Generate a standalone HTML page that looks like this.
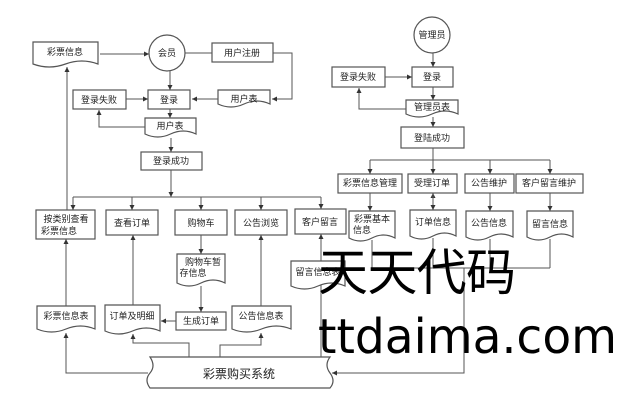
<!DOCTYPE html>
<html><head><meta charset="utf-8"><style>
html,body{margin:0;padding:0;background:#fff;}
svg{display:block;}
text{font-family:"Liberation Sans","Noto Sans CJK SC",sans-serif;font-size:9px;fill:#222;}
</style></head><body>
<svg width="633" height="414" viewBox="0 0 633 414" xmlns="http://www.w3.org/2000/svg">
<defs><marker id="a" markerWidth="6" markerHeight="6" refX="5" refY="3" orient="auto" markerUnits="userSpaceOnUse"><path d="M0,0.5 L5,3 L0,5.5z" fill="#333"/></marker></defs>
<g fill="#fff" stroke="#555" stroke-width="1.2">
<!-- boxes -->
<rect x="212" y="43" width="61" height="19"/>
<rect x="148" y="90" width="42" height="19"/>
<rect x="73" y="90" width="53" height="19"/>
<rect x="141" y="152" width="61" height="18"/>
<rect x="36" y="210" width="59" height="29"/>
<rect x="106" y="210" width="52" height="25"/>
<rect x="175" y="210" width="52" height="25"/>
<rect x="235" y="210" width="52" height="25"/>
<rect x="295" y="209" width="51" height="25"/>
<rect x="176" y="312" width="50" height="18"/>
<rect x="412" y="67" width="41" height="20"/>
<rect x="332" y="67" width="53" height="20"/>
<rect x="401" y="127" width="63" height="21"/>
<rect x="338" y="174" width="64" height="19"/>
<rect x="408" y="174" width="49" height="19"/>
<rect x="465" y="174" width="49" height="19"/>
<rect x="516" y="174" width="67" height="19"/>
<circle cx="167" cy="53" r="18"/>
<circle cx="432" cy="35" r="18"/>
<!-- docs -->
<path d="M33 42 h65 v22 q-16.25 -6 -32.5 0 t-32.5 0 z"/>
<path d="M218 90 h52 v14 q-13 -6 -26 0 t-26 0 z"/>
<path d="M145 118 h51 v16 q-12.75 -6 -25.5 0 t-25.5 0 z"/>
<path d="M406 100 h52 v14 q-13 -6 -26 0 t-26 0 z"/>
<path d="M349 211 h46 v27 q-11.5 -6 -23 0 t-23 0 z"/>
<path d="M410 210 h46 v26 q-11.5 -6 -23 0 t-23 0 z"/>
<path d="M466 211 h47 v26 q-11.75 -6 -23.5 0 t-23.5 0 z"/>
<path d="M527 211 h46 v26 q-11.5 -6 -23 0 t-23 0 z"/>
<path d="M177 254 h48 v29 q-12 -6 -24 0 t-24 0 z"/>
<path d="M37 306 h58 v23 q-14.5 -6 -29 0 t-29 0 z"/>
<path d="M105 305 h55 v26 q-13.75 -6 -27.5 0 t-27.5 0 z"/>
<path d="M232 306 h59 v23 q-14.75 -6 -29.5 0 t-29.5 0 z"/>
<path d="M150 357 H330 q-6 8 0 16 t0 15 H150 q-6 -8 0 -15 t0 -16 z"/>
</g>
<g fill="none" stroke="#555" stroke-width="1">
<line x1="100" y1="54" x2="149" y2="54" marker-end="url(#a)"/>
<line x1="185" y1="53" x2="212" y2="53"/>
<polyline points="273,53 292,53 292,99 272,99" marker-end="url(#a)"/>
<line x1="218" y1="99" x2="192" y2="99" marker-end="url(#a)"/>
<line x1="126" y1="99" x2="148" y2="99" marker-end="url(#a)"/>
<line x1="170" y1="71" x2="170" y2="90" marker-end="url(#a)"/>
<line x1="170" y1="109" x2="170" y2="118" marker-end="url(#a)"/>
<polyline points="145,127 99,127 99,110" marker-end="url(#a)"/>
<line x1="171" y1="138" x2="171" y2="152" marker-end="url(#a)"/>
<line x1="171" y1="170" x2="171" y2="197" marker-end="url(#a)"/>
<line x1="73" y1="197" x2="321" y2="197"/>
<line x1="73" y1="197" x2="73" y2="210" marker-end="url(#a)"/>
<line x1="132" y1="197" x2="132" y2="210" marker-end="url(#a)"/>
<line x1="201" y1="197" x2="201" y2="210" marker-end="url(#a)"/>
<line x1="261" y1="197" x2="261" y2="210" marker-end="url(#a)"/>
<line x1="321" y1="197" x2="321" y2="209" marker-end="url(#a)"/>
<line x1="67" y1="210" x2="67" y2="67" marker-end="url(#a)"/>
<line x1="66" y1="306" x2="66" y2="239" marker-end="url(#a)"/>
<polyline points="148,373 66,373 66,333" marker-end="url(#a)"/>
<line x1="133" y1="305" x2="133" y2="235" marker-end="url(#a)"/>
<polyline points="189,357 189,343 133,343 133,334" marker-end="url(#a)"/>
<line x1="176" y1="321" x2="161" y2="321" marker-end="url(#a)"/>
<line x1="201" y1="235" x2="201" y2="254" marker-end="url(#a)"/>
<line x1="201" y1="286" x2="201" y2="312" marker-end="url(#a)"/>
<line x1="261" y1="306" x2="261" y2="235" marker-end="url(#a)"/>
<polyline points="220,357 220,345 261,345 261,333" marker-end="url(#a)"/>
<line x1="321" y1="357" x2="321" y2="234" marker-end="url(#a)"/>
<line x1="433" y1="53" x2="433" y2="67" marker-end="url(#a)"/>
<line x1="385" y1="77" x2="412" y2="77" marker-end="url(#a)"/>
<line x1="433" y1="87" x2="433" y2="100" marker-end="url(#a)"/>
<polyline points="406,109 359,109 359,88" marker-end="url(#a)"/>
<line x1="433" y1="117" x2="433" y2="127" marker-end="url(#a)"/>
<line x1="433" y1="148" x2="433" y2="160"/>
<line x1="370" y1="160" x2="550" y2="160"/>
<line x1="370" y1="160" x2="370" y2="174" marker-end="url(#a)"/>
<line x1="433" y1="160" x2="433" y2="174" marker-end="url(#a)"/>
<line x1="490" y1="160" x2="490" y2="174" marker-end="url(#a)"/>
<line x1="550" y1="160" x2="550" y2="174" marker-end="url(#a)"/>
<line x1="370" y1="193" x2="370" y2="211" marker-end="url(#a)"/>
<line x1="433" y1="198" x2="433" y2="193" marker-end="url(#a)"/>
<line x1="433" y1="194" x2="433" y2="210" marker-end="url(#a)"/>
<line x1="490" y1="193" x2="490" y2="211" marker-end="url(#a)"/>
<line x1="550" y1="193" x2="550" y2="211" marker-end="url(#a)"/>
<line x1="372" y1="240" x2="372" y2="268"/>
<line x1="433" y1="238" x2="433" y2="268"/>
<line x1="490" y1="239" x2="490" y2="268"/>
<line x1="550" y1="239" x2="550" y2="268"/>
<line x1="372" y1="268" x2="550" y2="268"/>
<polyline points="464,268 464,373 332,373" marker-end="url(#a)"/>
</g>
<path d="M291 261 h54 v25 q-13.5 -6 -27 0 t-27 0 z" fill="#fff" stroke="#555" stroke-width="1.2"/>
<g text-anchor="middle">
<text x="65" y="55">彩票信息</text>
<text x="167" y="56">会员</text>
<text x="242" y="56">用户注册</text>
<text x="244" y="102">用户表</text>
<text x="169" y="103">登录</text>
<text x="99" y="103">登录失败</text>
<text x="170" y="129">用户表</text>
<text x="171" y="164">登录成功</text>
<text x="66" y="222">按类别查看</text>
<text x="59" y="234">彩票信息</text>
<text x="132" y="226">查看订单</text>
<text x="201" y="226">购物车</text>
<text x="261" y="226">公告浏览</text>
<text x="320" y="225">客户留言</text>
<text x="203" y="265">购物车暂</text>
<text x="193" y="276">存信息</text>
<text x="66" y="319">彩票信息表</text>
<text x="132" y="319">订单及明细</text>
<text x="201" y="324">生成订单</text>
<text x="261" y="319">公告信息表</text>
<text x="318" y="275">留言信息表</text>
<text x="239" y="378" style="font-size:12px">彩票购买系统</text>
<text x="432" y="38">管理员</text>
<text x="432" y="80">登录</text>
<text x="358" y="80">登录失败</text>
<text x="432" y="110">管理员表</text>
<text x="432" y="141">登陆成功</text>
<text x="370" y="186">彩票信息管理</text>
<text x="432" y="186">受理订单</text>
<text x="489" y="186">公告维护</text>
<text x="549" y="186">客户留言维护</text>
<text x="372" y="222">彩票基本</text>
<text x="362" y="233">信息</text>
<text x="433" y="225">订单信息</text>
<text x="489" y="226">公告信息</text>
<text x="550" y="227">留言信息</text>
</g>
<text x="318" y="290" style="font-family:'Noto Sans CJK SC',sans-serif;font-size:50px;fill:#000" textLength="198">天天代码</text>
<text x="318" y="353" style="font-family:'DejaVu Sans',sans-serif;font-size:48px;fill:#000" textLength="299" lengthAdjust="spacingAndGlyphs">ttdaima.com</text>
</svg>
</body></html>
